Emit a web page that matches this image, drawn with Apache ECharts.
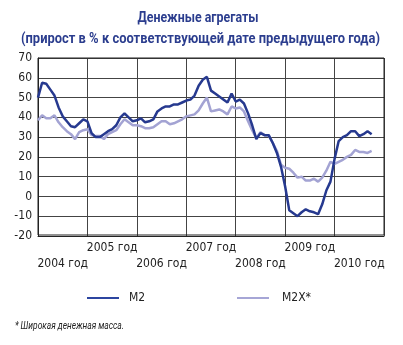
<!DOCTYPE html>
<html>
<head>
<meta charset="utf-8">
<script src="https://cdn.jsdelivr.net/npm/echarts@6/dist/echarts.min.js"></script>
<style>html,body{margin:0;padding:0;background:#fff}#c{width:403px;height:345px}</style>
</head>
<body>
<div id="c"></div>
<script>
// Monthly values from January 2004 (index 0) to October 2010
var years = ['2004 год','2005 год','2006 год','2007 год','2008 год','2009 год','2010 год'];
var yTicks = [-20,-10,0,10,20,30,40,50,60,70];
var m2 = [50,57.5,57,54,51,45,40.5,38,35.5,35,37,39,
          38,32,30,30,31.5,33,34,36,40,42,40,38,
          38.5,39.5,37.5,38,39,43,44.5,45.5,45.5,46.5,46.5,47.5,
          48.5,49,51,56,59,60.5,53.5,52,50.5,49,47.5,52,
          48,49,47,42,36,29,32,31,31,27,22,15,
          5,-7,-8.5,-10,-8,-6.5,-7.5,-8,-9,-4,3,7.5,
          19,28,30,31,33,33,30.5,31.5,33,31.5];
var m2x = [38.5,41,39.5,39.5,41,37.5,35,33,31.5,29,32.5,33.5,
           34,31,30.5,30.5,29,31.5,32.5,33.5,36.5,39,37.5,36,
           36,35.5,34.5,34.5,35,36.5,38,38,36.5,37,38,39,
           40.5,41,41.5,43.5,47,50,43,43.5,44,43,41.5,45.5,
           44.5,45,43,38,33.5,29.5,32.5,31,31,27,23,16,
           14.5,14,12,9.5,10,8,8,9,7.5,9.5,13,17.5,
           16.5,17.5,18.5,20,21,23.5,22.5,22.5,22,23];
var seriesNames = ['M2','M2X*'];
var titleLines = ['Денежные агрегаты', '(прирост в % к соответствующей дате предыдущего года)'];
var footnote = '* Широкая денежная масса.';

function pairs(arr){ return arr.map(function(v,i){ return [i, v]; }); }

var font = '"DejaVu Sans Condensed", "Roboto Condensed", "Liberation Sans Narrow", Roboto, sans-serif';
var ctx = document.createElement('canvas').getContext('2d');
function fitScale(text, fnt, target){
  ctx.font = fnt;
  return target / ctx.measureText(text).width;
}
var tFont = 'bold 15px Roboto, sans-serif';
var fFont = 'italic 10px Roboto, sans-serif';
var s1 = fitScale(titleLines[0], tFont, 121);
var s2 = fitScale(titleLines[1], tFont, 359);
var s3 = fitScale(footnote, fFont, 109);

var chart = echarts.init(document.getElementById('c'));
chart.setOption({
  animation: false,
  grid: {left: 38, right: 19, top: 58, bottom: 109},
  xAxis: [{
    type: 'value', min: 0, max: 84, interval: 12,
    axisLine: {show: true, onZero: false, lineStyle: {color: '#222', width: 1}},
    axisTick: {show: false}, axisLabel: {show: false},
    splitLine: {show: true, lineStyle: {color: '#444', width: 1}}
  }, {
    type: 'value', min: 0, max: 84, interval: 6, position: 'bottom',
    axisLine: {show: false}, axisTick: {show: false}, splitLine: {show: false},
    axisLabel: {
      show: true, margin: 4, fontFamily: font, fontSize: 12, color: '#222', lineHeight: 16,
      formatter: function(v){
        if (v % 12 !== 6) return '';
        var k = (v - 6) / 12;
        return k % 2 === 0 ? '\n' + years[k] : years[k];
      }
    }
  }],
  yAxis: {
    type: 'value', min: yTicks[0], max: yTicks[yTicks.length-1], interval: 10,
    axisLine: {show: true, lineStyle: {color: '#222', width: 1}},
    axisTick: {show: false},
    axisLabel: {margin: 6, fontFamily: font, fontSize: 12, color: '#222'},
    splitLine: {show: true, lineStyle: {color: '#444', width: 1}}
  },
  legend: [{
    data: [seriesNames[0]], left: 82, top: 287, icon: 'rect', itemWidth: 32, itemHeight: 2,
    textStyle: {fontFamily: font, fontSize: 12, color: '#222', padding: [0,0,0,5]}
  }, {
    data: [seriesNames[1]], left: 232, top: 287, icon: 'rect', itemWidth: 32, itemHeight: 2,
    textStyle: {fontFamily: font, fontSize: 12, color: '#222', padding: [0,0,0,8]}
  }],
  graphic: [{
    type: 'text', x: 198, y: 18, scaleX: s1,
    style: {text: titleLines[0], font: tFont, fill: '#2b3d8e', align: 'center', verticalAlign: 'middle'}
  }, {
    type: 'text', x: 200.5, y: 39, scaleX: s2,
    style: {text: titleLines[1], font: tFont, fill: '#2b3d8e', align: 'center', verticalAlign: 'middle'}
  }, {
    type: 'text', x: 15, y: 326, scaleX: s3,
    style: {text: footnote, font: fFont, fill: '#222', align: 'left', verticalAlign: 'middle'}
  }, {
    type: 'rect', shape: {x: 38, y: 58, width: 346, height: 177},
    style: {fill: 'none', stroke: '#222', lineWidth: 1}, z: 1
  }],
  series: [{
    name: seriesNames[1], type: 'line', data: pairs(m2x), showSymbol: false, symbol: 'none',
    lineStyle: {color: '#a3a3d3', width: 2.5}, itemStyle: {color: '#a6a6d6'}, z: 3
  }, {
    name: seriesNames[0], type: 'line', data: pairs(m2), showSymbol: false, symbol: 'none',
    lineStyle: {color: '#26398f', width: 2.5}, itemStyle: {color: '#2c45a0'}, z: 4
  }]
});
</script>
</body>
</html>
